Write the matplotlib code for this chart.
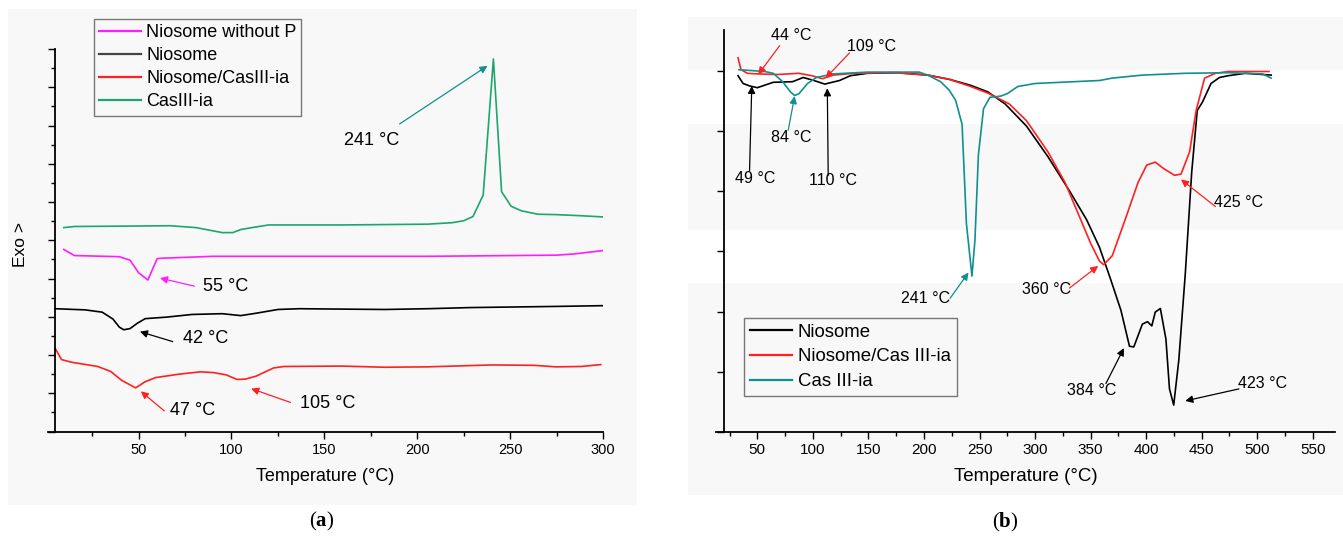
import matplotlib
matplotlib.use("Agg")
import matplotlib.pyplot as plt
from matplotlib.patches import Rectangle

# ---------------- data: panel (a) ----------------
a_green_T = [9.7, 15.4, 44, 67, 81, 95, 100.7, 105, 111, 120, 159, 205.5, 219, 225, 230, 235.5, 241, 245.4, 250.5, 256, 265, 274.7, 288.5, 300]
a_green_y = [5.33, 5.36, 5.37, 5.38, 5.33, 5.20, 5.20, 5.28, 5.33, 5.40, 5.40, 5.42, 5.46, 5.51, 5.62, 6.18, 9.74, 6.27, 5.89, 5.77, 5.68, 5.67, 5.64, 5.61]

a_mag_T = [9.7, 15.4, 39.6, 45.4, 50, 55, 60, 62.7, 90, 205.5, 274.7, 284, 300]
a_mag_y = [4.76, 4.60, 4.57, 4.48, 4.15, 3.96, 4.52, 4.53, 4.58, 4.58, 4.61, 4.64, 4.73]

a_black_T = [5, 21.2, 30.4, 36.2, 39.6, 42, 45.4, 49, 53.5, 65, 78.8, 95, 105, 113, 125, 136.4, 182.5, 205.5, 228.6, 274.7, 300]
a_black_y = [3.21, 3.18, 3.12, 2.94, 2.73, 2.66, 2.69, 2.82, 2.95, 2.99, 3.06, 3.08, 3.03, 3.09, 3.19, 3.21, 3.19, 3.21, 3.24, 3.27, 3.29]

a_red_T = [5, 8.5, 14, 28, 35, 40.8, 44.2, 48.4, 53.5, 59.2, 72, 83.4, 90.3, 97.2, 103, 107.6, 113.4, 122.6, 128.3, 159.5, 182.5, 205.5, 240, 263, 274.7, 288.5, 298.8]
a_red_y = [2.18, 1.88, 1.81, 1.70, 1.57, 1.34, 1.25, 1.14, 1.30, 1.41, 1.50, 1.56, 1.54, 1.48, 1.36, 1.37, 1.45, 1.66, 1.70, 1.71, 1.68, 1.69, 1.74, 1.73, 1.69, 1.70, 1.75]

a_labels = ["Niosome without P", "Niosome", "Niosome/CasIII-ia", "CasIII-ia"]
a_xticks = [50, 100, 150, 200, 250, 300]

# ---------------- data: panel (b) ----------------
b_black_T = [32.6, 37.2, 43, 50, 64.3, 81.7, 91.3, 101, 110.7, 124, 133.8, 149.3, 176.4, 203.4, 222.7, 242, 257.5, 273, 292.3, 311.6, 331, 346.4, 358, 367.6, 377.3, 385, 388.9, 396.6, 401.2, 405.1, 408.2, 412.8, 417.8, 421, 424.8, 429.4, 435.2, 441, 446, 450.7, 458.4, 466, 473.9, 489.3, 512.5]
b_black_y = [5.93, 5.80, 5.76, 5.73, 5.82, 5.83, 5.90, 5.85, 5.79, 5.85, 5.93, 5.97, 5.98, 5.94, 5.87, 5.77, 5.66, 5.46, 5.09, 4.58, 4.01, 3.53, 3.07, 2.56, 2.02, 1.42, 1.41, 1.79, 1.83, 1.76, 1.99, 2.05, 1.54, 0.71, 0.44, 1.19, 2.62, 4.32, 5.35, 5.49, 5.80, 5.90, 5.93, 5.97, 5.94]

b_red_T = [32.6, 35.3, 41.1, 50, 68.2, 87.5, 99, 108.7, 118.4, 137.7, 172.5, 203.4, 222.7, 242, 257.5, 276.8, 292.3, 311.6, 327, 338.6, 350.2, 358, 361.8, 369.5, 381.1, 392.7, 400.5, 408.2, 415.9, 425.6, 431.4, 439.1, 445, 452.6, 462.3, 474, 510.6]
b_red_y = [6.23, 6.03, 5.97, 5.96, 5.95, 5.97, 5.93, 5.88, 5.94, 5.97, 5.98, 5.94, 5.87, 5.75, 5.64, 5.46, 5.18, 4.66, 4.15, 3.64, 3.13, 2.84, 2.78, 2.93, 3.53, 4.15, 4.44, 4.49, 4.38, 4.27, 4.29, 4.66, 5.35, 5.89, 5.97, 6.00, 6.00]

b_teal_T = [33.4, 56.6, 64.3, 72.8, 79.8, 83.6, 87.5, 95.2, 103, 118.4, 149.3, 195.7, 203.4, 215, 222.7, 228.5, 234.3, 238.2, 243.2, 245.9, 249, 253.6, 259.4, 269.1, 274.9, 284.5, 300, 358, 369.5, 396.6, 435.2, 474, 504.8, 512.5]
b_teal_y = [6.03, 6.00, 5.97, 5.83, 5.66, 5.60, 5.63, 5.80, 5.90, 5.96, 5.99, 5.99, 5.94, 5.83, 5.69, 5.52, 5.12, 3.47, 2.59, 3.19, 4.61, 5.38, 5.57, 5.59, 5.63, 5.75, 5.80, 5.85, 5.89, 5.94, 5.97, 5.98, 5.96, 5.89]

b_labels = ["Niosome", "Niosome/Cas III-ia", "Cas III-ia"]
b_xticks = [50, 100, 150, 200, 250, 300, 350, 400, 450, 500, 550]

panel_letters = ["a", "b"]

# ---------------- annotations: (label, text pos, arrow start, arrow tip, colour key) ----------------
a_notes = [
    ("241 °C", (175.6, 7.61), (190.5, 8.04), (237.8, 9.56), "teal"),
    ("55 °C", (96.8, 3.80), (80.0, 3.80), (61.5, 4.01), "mag"),
    ("42 °C", (86.0, 2.42), (68.4, 2.35), (50.7, 2.61), "black"),
    ("47 °C", (79.3, 0.56), (63.8, 0.54), (51.2, 1.05), "red"),
    ("105 °C", (152.0, 0.72), (131.8, 0.76), (110.6, 1.12), "red"),
]
b_notes = [
    ("44 °C", (80.9, 6.60), (70.1, 6.43), (50.8, 5.95), "red"),
    ("109 °C", (152.4, 6.41), (133.0, 6.31), (111.4, 5.89), "red"),
    ("84 °C", (80.9, 4.90), (77.8, 5.02), (83.6, 5.59), "teal"),
    ("49 °C", (48.0, 4.21), (43.0, 4.35), (45.0, 5.76), "black"),
    ("110 °C", (118.4, 4.18), (113.8, 4.27), (113.0, 5.72), "black"),
    ("241 °C", (201.5, 2.22), (223.5, 2.22), (240.1, 2.65), "teal"),
    ("360 °C", (310.8, 2.36), (331.0, 2.39), (356.8, 2.76), "red"),
    ("384 °C", (351.4, 0.68), (363.8, 0.80), (380.0, 1.39), "black"),
    ("423 °C", (504.8, 0.80), (483.5, 0.71), (435.2, 0.51), "black"),
    ("425 °C", (483.5, 3.81), (462.3, 3.75), (431.4, 4.20), "red"),
]

# ---------------- styling ----------------
W, H = 1343, 537
FONT = "Liberation Sans"
plt.rcParams["font.family"] = [FONT, "DejaVu Sans"]
plt.rcParams["mathtext.fontset"] = "custom"
plt.rcParams["mathtext.rm"] = "Liberation Serif"
plt.rcParams["mathtext.bf"] = "Liberation Serif:bold"
C = {"mag": "#ff1cff", "black": "#000000", "red": "#ff2020",
     "green": "#1aa86a", "teal": "#0f9090"}

fig = plt.figure(figsize=(W / 100, H / 100), dpi=100)
fig.patch.set_facecolor("white")


def frect(x0, y0, x1, y1, color):
    fig.patches.append(Rectangle((x0 / W, 1 - y1 / H), (x1 - x0) / W, (y1 - y0) / H,
                                 transform=fig.transFigure, facecolor=color,
                                 edgecolor="none", zorder=-10))


BG = "#f8f8f8"
frect(8, 9, 637, 505, BG)
frect(688, 17, 1343, 70, BG)
frect(688, 70, 1343, 124, "#ffffff")
frect(688, 124, 1343, 230, BG)
frect(688, 230, 1343, 283, "#ffffff")
frect(688, 283, 1343, 495, BG)


def ax_at(x0, y0, x1, y1):
    return fig.add_axes([x0 / W, 1 - y1 / H, (x1 - x0) / W, (y1 - y0) / H])


def style(ax, left_T):
    ax.set_facecolor("none")
    for s in ("top", "right"):
        ax.spines[s].set_visible(False)
    ax.spines["left"].set_position(("data", left_T))
    for s in ("left", "bottom"):
        ax.spines[s].set_linewidth(1.3)
    ax.tick_params(axis="both", which="major", direction="out", length=5, width=1.0,
                   labelsize=10.5, pad=3)
    ax.tick_params(axis="both", which="minor", direction="out", length=2.8, width=1.0)
    ax.tick_params(axis="y", which="both", labelleft=False)


def arrow(ax, start, tip, color):
    ax.annotate("", xy=tip, xytext=start,
                arrowprops=dict(arrowstyle="-|>", color=color, lw=0.9,
                                mutation_scale=11, shrinkA=0, shrinkB=0))


# ---------------- panel (a) ----------------
axa = ax_at(55 - 4 * 1.857, 49, 603, 431.5)
axa.plot(a_mag_T, a_mag_y, color=C["mag"], lw=1.2, label=a_labels[0])
axa.plot(a_black_T, a_black_y, color=C["black"], lw=1.2, label=a_labels[1])
axa.plot(a_red_T, a_red_y, color=C["red"], lw=1.2, label=a_labels[2])
axa.plot(a_green_T, a_green_y, color=C["green"], lw=1.2, label=a_labels[3])
axa.set_xlim(1, 300)
axa.set_ylim(0, 10)
style(axa, 5)
axa.set_xticks(a_xticks)
axa.set_xticks([25, 75, 125, 175, 225, 275], minor=True)
axa.set_yticks(range(0, 11))
axa.set_yticks([i + 0.5 for i in range(10)], minor=True)
axa.set_xlabel("Temperature (°C)", fontsize=13, labelpad=8)
axa.set_ylabel("Exo >", fontsize=12.5)
axa.yaxis.set_label_coords(-0.035, 0.49)
for lab, tp, st, tip, ck in a_notes:
    axa.text(tp[0], tp[1], lab, fontsize=13, ha="center", va="center")
    arrow(axa, st, tip, C[ck])
leg = axa.legend(loc="upper left", bbox_to_anchor=(94 / W, 1 - 19 / H),
                 bbox_transform=fig.transFigure, fontsize=13, frameon=True,
                 fancybox=False, edgecolor="#777777", framealpha=1, facecolor=BG,
                 handlelength=2.3, handletextpad=0.3, labelspacing=0.34,
                 borderpad=0.28, borderaxespad=0)
leg.get_frame().set_linewidth(1.0)
for h in leg.legend_handles:
    h.set_linewidth(1.6)
leg.legend_handles[1].set_color("#444444")

# ---------------- panel (b) ----------------
axb = ax_at(724 - 7 * 1.111, 30, 1335, 431.5)
axb.plot(b_black_T, b_black_y, color=C["black"], lw=1.2, label=b_labels[0])
axb.plot(b_red_T, b_red_y, color=C["red"], lw=1.2, label=b_labels[1])
axb.plot(b_teal_T, b_teal_y, color=C["teal"], lw=1.2, label=b_labels[2])
axb.set_xlim(13, 570)
axb.set_ylim(0, 401.5 / 60)
style(axb, 20)
axb.set_xticks(b_xticks)
axb.set_xticks([25, 75, 125, 175, 225, 275, 325, 375, 425, 475, 525], minor=True)
axb.set_yticks(range(0, 7))
axb.tick_params(axis="x", which="major", labelsize=11)
axb.set_xlabel("Temperature (°C)", fontsize=13.5, labelpad=8)
for lab, tp, st, tip, ck in b_notes:
    axb.text(tp[0], tp[1], lab, fontsize=11.5, ha="center", va="center")
    arrow(axb, st, tip, C[ck])
legb = axb.legend(loc="upper left", bbox_to_anchor=(744 / W, 1 - 318 / H),
                  bbox_transform=fig.transFigure, fontsize=13.4, frameon=True,
                  fancybox=False, edgecolor="#777777", framealpha=1, facecolor=BG,
                  handlelength=2.3, handletextpad=0.3, labelspacing=0.42,
                  borderpad=0.3, borderaxespad=0)
legb.get_frame().set_linewidth(1.0)
for h in legb.legend_handles:
    h.set_linewidth(1.6)

# ---------------- panel letters ----------------
for (px, py), letter in zip([(322, 521), (1005, 522)], panel_letters):
    fig.text(px / W, 1 - py / H, r"($\mathbf{" + letter + r"}$)", fontsize=15,
             ha="center", va="center", family=["Liberation Serif"])

fig.savefig("out.png", dpi=100)
